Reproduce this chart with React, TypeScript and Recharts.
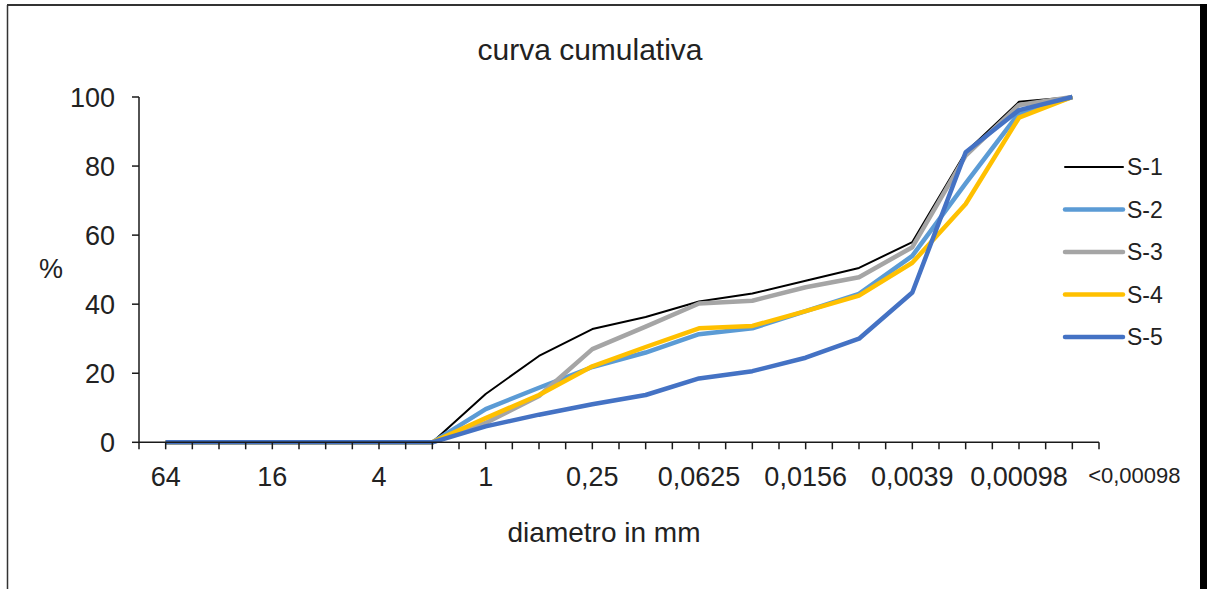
import { LineChart, Line, XAxis, YAxis, Legend } from 'recharts'

// grain size classes (mm), phi/2 steps
const SIZES = ['64', '32', '16', '8', '4', '2', '1', '0,5', '0,25', '0,125', '0,0625', '0,0313', '0,0156', '0,0078', '0,0039', '0,00195', '0,00098', '<0,00098']

// cumulative % per sample
const S1 = [0, 0, 0, 0, 0, 0, 14, 25, 32.8, 36.3, 40.8, 43.1, 46.8, 50.5, 58, 84, 98.6, 100]
const S2 = [0, 0, 0, 0, 0, 0, 9.6, 15.8, 21.8, 26, 31.3, 33, 38, 43, 54, 75, 95.3, 100]
const S3 = [0, 0, 0, 0, 0, 0, 5.6, 13.4, 27, 33.5, 40.2, 41, 44.9, 47.8, 56.5, 83, 97.7, 100]
const S4 = [0, 0, 0, 0, 0, 0, 7, 13.7, 22, 27.6, 33, 33.7, 38, 42.5, 52, 69, 94, 100]
const S5 = [0, 0, 0, 0, 0, 0, 4.6, 8, 11, 13.7, 18.5, 20.6, 24.5, 30, 43.4, 84, 96.2, 100]

const Y_TICKS = [0, 20, 40, 60, 80, 100]

const SERIES = [
  { key: 'S-1', values: S1, color: '#000000', width: 2 },
  { key: 'S-2', values: S2, color: '#5b9bd5', width: 4.5 },
  { key: 'S-3', values: S3, color: '#a5a5a5', width: 4.5 },
  { key: 'S-4', values: S4, color: '#ffc000', width: 4.5 },
  { key: 'S-5', values: S5, color: '#4472c4', width: 4.5 },
]

const W = 1208
const H = 589
const PLOT_LEFT = 139
const PLOT_RIGHT = 1099
const PLOT_TOP = 97
const PLOT_BOTTOM = 442.3
const BAND = (PLOT_RIGHT - PLOT_LEFT) / SIZES.length
const TICK_SIZE = 7
const TICK_MARGIN = 18

const FONT = '"Liberation Sans", Arial, sans-serif'
const TEXT = '#222'
const AXIS = '#1a1a1a'

const data = SIZES.map((size, i) => {
  const row: Record<string, string | number> = { size, idx: i }
  SERIES.forEach(s => { row[s.key] = s.values[i] })
  return row
})

// label every other class; tick marks also on the class boundaries
function SizeTick(props: any) {
  const { x, y, index } = props
  const last = index === SIZES.length - 1
  const axisY = y - TICK_SIZE - TICK_MARGIN
  const edges = [x - BAND / 2]
  if (last) edges.push(x + BAND / 2)
  return (
    <g>
      {edges.map(ex => (
        <line key={ex} x1={ex} x2={ex} y1={axisY} y2={axisY + TICK_SIZE} stroke={AXIS} strokeWidth={1.5} />
      ))}
      {(last || index % 2 === 0) && (
        <text
          x={last ? x + 62 : x}
          y={y}
          dy="0.71em"
          textAnchor="middle"
          fontSize={last ? 22 : 27}
          fontFamily={FONT}
          fill={TEXT}
        >
          {SIZES[index]}
        </text>
      )}
    </g>
  )
}

function LegendBox(props: any) {
  const items = props.payload || []
  return (
    <svg width={110} height={items.length * 42.5} style={{ display: 'block' }}>
      {items.map((it: any, i: number) => {
        const s = SERIES.find(d => d.key === it.value)
        const cy = 21 + i * 42.5
        return (
          <g key={it.value}>
            <line x1={5} x2={63} y1={cy} y2={cy} stroke={s?.color} strokeWidth={s?.width} strokeLinecap="round" />
            <text x={67} y={cy} dy="0.36em" fontSize={23} fontFamily={FONT} fill={TEXT}>{it.value}</text>
          </g>
        )
      })}
    </svg>
  )
}

export default function App() {
  return (
    <div style={{ position: 'absolute', left: 0, top: 0, width: W, height: H, background: '#fff', overflow: 'hidden' }}>
      <LineChart
        width={W}
        height={H}
        data={data}
        margin={{ top: PLOT_TOP, right: W - PLOT_RIGHT, left: 0, bottom: H - PLOT_BOTTOM - 60 }}
      >
        <XAxis
          dataKey="size"
          interval={0}
          height={60}
          padding={{ left: BAND / 2, right: BAND / 2 }}
          axisLine={{ stroke: AXIS, strokeWidth: 1.5 }}
          tickLine={{ stroke: AXIS, strokeWidth: 1.5 }}
          tickSize={TICK_SIZE}
          tickMargin={TICK_MARGIN}
          tick={<SizeTick />}
        />
        <YAxis
          width={PLOT_LEFT}
          domain={[0, 100]}
          ticks={Y_TICKS}
          interval={0}
          tickSize={7}
          tickMargin={17}
          axisLine={{ stroke: AXIS, strokeWidth: 1.5 }}
          tickLine={{ stroke: AXIS, strokeWidth: 1.5 }}
          tick={{ fontSize: 27, fontFamily: FONT, fill: TEXT }}
        />
        {SERIES.map(s => (
          <Line
            key={s.key}
            type="linear"
            dataKey={s.key}
            name={s.key}
            stroke={s.color}
            strokeWidth={s.width}
            strokeLinejoin="round"
            dot={false}
            activeDot={false}
            isAnimationActive={false}
          />
        ))}
        <Legend
          layout="vertical"
          align="center"
          verticalAlign="middle"
          wrapperStyle={{ left: 1060, top: 146, width: 110 }}
          content={<LegendBox />}
        />
      </LineChart>

      <svg width={W} height={H} style={{ position: 'absolute', left: 0, top: 0, pointerEvents: 'none' }}>
        <line x1={7.5} x2={7.5} y1={5} y2={H} stroke="#333" strokeWidth={1.5} />
        <line x1={7} x2={1203} y1={5} y2={5} stroke="#333" strokeWidth={2} />
        <line x1={1203.5} x2={1203.5} y1={4} y2={H} stroke="#000" strokeWidth={7} />
        <text x={590} y={60} textAnchor="middle" fontSize={30} fontFamily={FONT} fill={TEXT}>curva cumulativa</text>
        <text x={51} y={278} textAnchor="middle" fontSize={27} fontFamily={FONT} fill={TEXT}>%</text>
        <text x={604} y={542} textAnchor="middle" fontSize={28} fontFamily={FONT} fill={TEXT}>diametro in mm</text>
      </svg>
    </div>
  )
}
